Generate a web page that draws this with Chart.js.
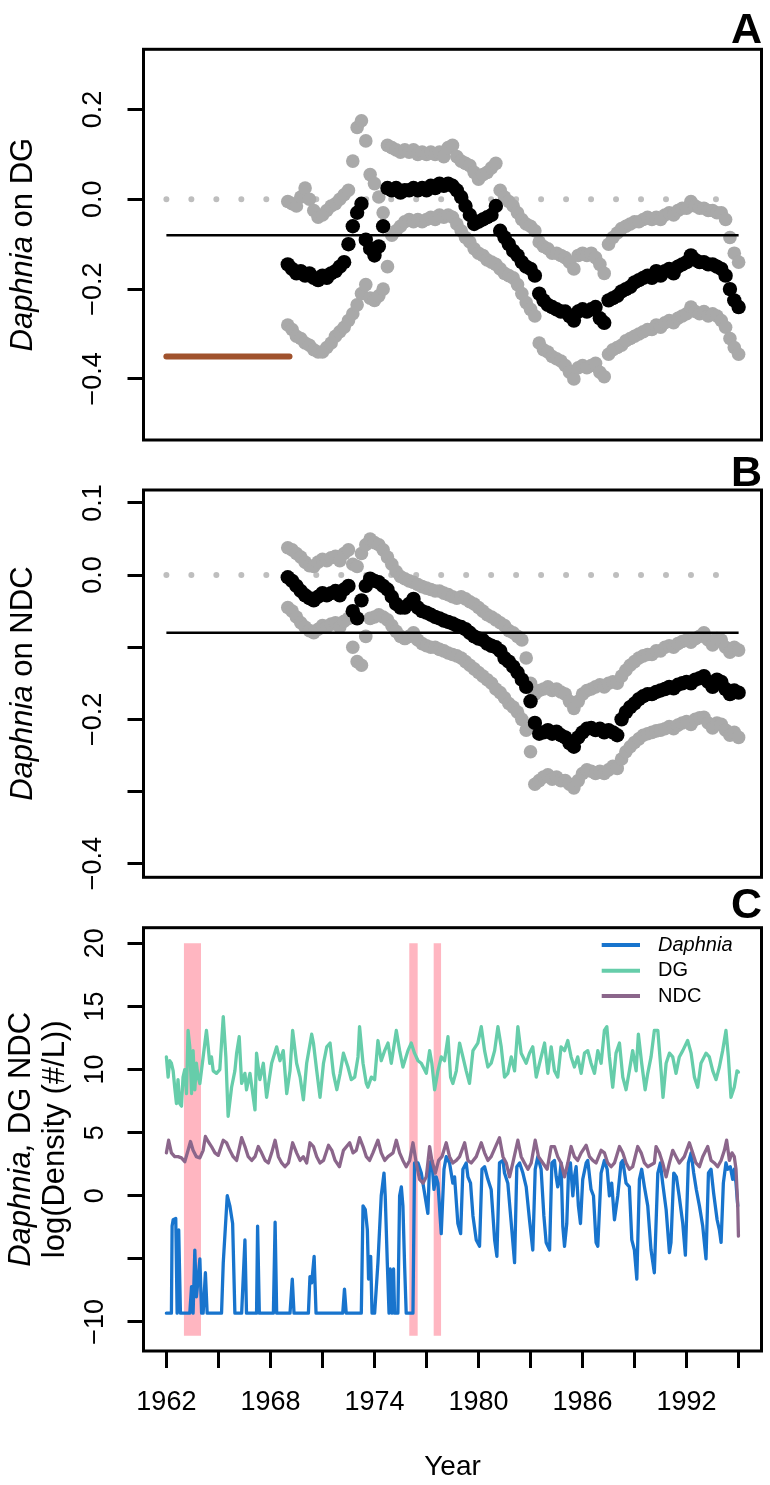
<!DOCTYPE html>
<html><head><meta charset="utf-8">
<script src="https://cdn.jsdelivr.net/npm/chart.js@4/dist/chart.umd.min.js"></script>
<style>
html,body{margin:0;padding:0;background:#fff;}
#wrap{position:relative;width:770px;height:1485px;overflow:hidden;}
canvas{position:absolute;left:0;top:0;pointer-events:none;}
</style></head><body><div id="wrap">
<canvas id="cA" width="770" height="1485"></canvas>
<canvas id="cB" width="770" height="1485"></canvas>
<canvas id="cC" width="770" height="1485"></canvas>
</div>
<script>
// ---------- DATA ----------
const xTickYears = [1962,1965,1968,1971,1974,1977,1980,1983,1986,1989,1992,1995];
const xLabelYears = [1962,1968,1974,1980,1986,1992];
const yTicksA = [0.2,0,-0.2,-0.4];
const yLabelsA = [0.2,0,-0.2,-0.4];
const yTicksB = [0.1,0,-0.1,-0.2,-0.3,-0.4];
const yLabelsB = [0.1,0,-0.2,-0.4];
const yTicksC = [20,15,10,5,0,-5,-10];
const yLabelsC = [20,15,10,5,0,-10];

const abYears = [1969,1969.25,1969.5,1969.75,1970,1970.25,1970.5,1970.75,1971,1971.25,1971.5,1971.75,1972,1972.25,1972.5,1972.75,1973,1973.25,1973.5,1973.75,1974,1974.25,1974.5,1974.75,1975,1975.25,1975.5,1975.75,1976,1976.25,1976.5,1976.75,1977,1977.25,1977.5,1977.75,1978,1978.25,1978.5,1978.75,1979,1979.25,1979.5,1979.75,1980,1980.25,1980.5,1980.75,1981,1981.25,1981.5,1981.75,1982,1982.25,1982.5,1982.75,1983,1983.25,1983.5,1983.75,1984,1984.25,1984.5,1984.75,1985,1985.25,1985.5,1985.75,1986,1986.25,1986.5,1986.75,1987,1987.25,1987.5,1987.75,1988,1988.25,1988.5,1988.75,1989,1989.25,1989.5,1989.75,1990,1990.25,1990.5,1990.75,1991,1991.25,1991.5,1991.75,1992,1992.25,1992.5,1992.75,1993,1993.25,1993.5,1993.75,1994,1994.25,1994.5,1994.75,1995];

const dgEffect = [-0.145,-0.155,-0.165,-0.16,-0.17,-0.165,-0.175,-0.18,-0.17,-0.175,-0.165,-0.16,-0.15,-0.14,-0.1,-0.06,-0.03,-0.01,-0.09,-0.11,-0.125,-0.105,-0.06,0.025,0.02,0.025,0.015,0.02,0.02,0.025,0.02,0.025,0.02,0.03,0.025,0.035,0.03,0.035,0.03,0.02,0.005,-0.015,-0.035,-0.055,-0.05,-0.045,-0.04,-0.035,-0.015,-0.07,-0.085,-0.1,-0.115,-0.125,-0.14,-0.15,-0.155,-0.17,-0.21,-0.225,-0.235,-0.24,-0.245,-0.25,-0.25,-0.26,-0.27,-0.25,-0.245,-0.25,-0.245,-0.24,-0.265,-0.275,-0.225,-0.22,-0.215,-0.205,-0.2,-0.195,-0.185,-0.18,-0.175,-0.17,-0.175,-0.16,-0.17,-0.16,-0.155,-0.165,-0.15,-0.145,-0.14,-0.125,-0.135,-0.14,-0.14,-0.145,-0.145,-0.15,-0.155,-0.17,-0.2,-0.225,-0.24];
const dgUpper = [-0.005,-0.01,-0.015,0.005,0.025,0,-0.025,-0.04,-0.035,-0.025,-0.015,-0.01,0,0.01,0.02,0.085,0.16,0.175,0.13,0.055,0.035,0.005,-0.03,0.12,0.115,0.11,0.105,0.11,0.105,0.11,0.1,0.105,0.1,0.105,0.1,0.105,0.095,0.115,0.12,0.095,0.085,0.08,0.075,0.06,0.045,0.055,0.06,0.07,0.08,0.02,0.005,-0.005,-0.015,-0.03,-0.045,-0.055,-0.06,-0.07,-0.095,-0.105,-0.11,-0.12,-0.12,-0.125,-0.13,-0.14,-0.155,-0.125,-0.12,-0.125,-0.12,-0.13,-0.145,-0.165,-0.1,-0.085,-0.075,-0.065,-0.06,-0.055,-0.05,-0.05,-0.045,-0.04,-0.045,-0.04,-0.045,-0.035,-0.03,-0.035,-0.025,-0.02,-0.02,-0.005,-0.015,-0.02,-0.02,-0.025,-0.025,-0.03,-0.03,-0.045,-0.085,-0.12,-0.14];
const dgLower = [-0.28,-0.29,-0.305,-0.31,-0.32,-0.325,-0.335,-0.34,-0.34,-0.33,-0.32,-0.305,-0.295,-0.285,-0.27,-0.255,-0.235,-0.21,-0.19,-0.22,-0.225,-0.215,-0.2,-0.15,-0.08,-0.07,-0.06,-0.05,-0.045,-0.05,-0.045,-0.05,-0.045,-0.04,-0.045,-0.035,-0.04,-0.035,-0.04,-0.055,-0.07,-0.085,-0.095,-0.11,-0.12,-0.125,-0.135,-0.14,-0.145,-0.155,-0.165,-0.17,-0.175,-0.19,-0.21,-0.23,-0.245,-0.26,-0.32,-0.335,-0.34,-0.35,-0.355,-0.36,-0.37,-0.385,-0.4,-0.375,-0.37,-0.375,-0.37,-0.365,-0.385,-0.395,-0.345,-0.335,-0.33,-0.325,-0.315,-0.31,-0.305,-0.3,-0.295,-0.29,-0.29,-0.28,-0.285,-0.275,-0.27,-0.275,-0.265,-0.26,-0.255,-0.24,-0.25,-0.255,-0.25,-0.26,-0.255,-0.26,-0.27,-0.285,-0.31,-0.33,-0.345];

const ndcEffect = [-0.003,-0.008,-0.015,-0.022,-0.028,-0.032,-0.035,-0.03,-0.025,-0.028,-0.025,-0.022,-0.028,-0.02,-0.015,-0.05,-0.06,-0.035,-0.015,-0.005,-0.008,-0.01,-0.015,-0.02,-0.03,-0.04,-0.045,-0.045,-0.04,-0.033,-0.045,-0.05,-0.052,-0.055,-0.058,-0.06,-0.063,-0.065,-0.067,-0.07,-0.072,-0.075,-0.08,-0.085,-0.088,-0.09,-0.095,-0.098,-0.1,-0.105,-0.115,-0.12,-0.127,-0.135,-0.145,-0.155,-0.175,-0.205,-0.22,-0.218,-0.215,-0.22,-0.217,-0.222,-0.225,-0.233,-0.238,-0.225,-0.218,-0.213,-0.212,-0.215,-0.213,-0.218,-0.215,-0.218,-0.222,-0.2,-0.19,-0.183,-0.178,-0.172,-0.168,-0.165,-0.165,-0.162,-0.16,-0.158,-0.155,-0.157,-0.152,-0.15,-0.148,-0.15,-0.145,-0.143,-0.14,-0.148,-0.155,-0.145,-0.148,-0.158,-0.165,-0.16,-0.163];
const ndcUpper = [0.038,0.035,0.03,0.025,0.018,0.013,0.012,0.018,0.022,0.02,0.024,0.026,0.02,0.03,0.035,0.015,0.012,0.03,0.042,0.05,0.045,0.042,0.035,0.025,0.015,0.005,-0.002,-0.005,-0.008,-0.01,-0.013,-0.016,-0.018,-0.02,-0.022,-0.022,-0.025,-0.027,-0.03,-0.032,-0.03,-0.033,-0.037,-0.04,-0.045,-0.05,-0.055,-0.058,-0.062,-0.066,-0.07,-0.077,-0.08,-0.085,-0.09,-0.115,-0.15,-0.165,-0.16,-0.158,-0.155,-0.16,-0.158,-0.162,-0.165,-0.175,-0.185,-0.175,-0.165,-0.16,-0.158,-0.155,-0.152,-0.155,-0.15,-0.148,-0.15,-0.14,-0.132,-0.125,-0.12,-0.115,-0.112,-0.11,-0.11,-0.105,-0.105,-0.1,-0.098,-0.1,-0.095,-0.092,-0.09,-0.093,-0.088,-0.085,-0.08,-0.09,-0.097,-0.088,-0.09,-0.1,-0.107,-0.1,-0.104];
const ndcLower = [-0.045,-0.05,-0.058,-0.066,-0.072,-0.077,-0.08,-0.075,-0.07,-0.072,-0.068,-0.066,-0.072,-0.064,-0.06,-0.1,-0.12,-0.125,-0.085,-0.06,-0.058,-0.055,-0.058,-0.062,-0.07,-0.078,-0.085,-0.088,-0.085,-0.08,-0.09,-0.095,-0.098,-0.1,-0.1,-0.103,-0.105,-0.108,-0.11,-0.112,-0.115,-0.12,-0.125,-0.13,-0.135,-0.14,-0.145,-0.15,-0.158,-0.163,-0.17,-0.178,-0.183,-0.19,-0.2,-0.215,-0.245,-0.29,-0.285,-0.28,-0.277,-0.283,-0.28,-0.285,-0.285,-0.29,-0.295,-0.285,-0.275,-0.27,-0.272,-0.275,-0.272,-0.275,-0.27,-0.265,-0.268,-0.255,-0.245,-0.238,-0.232,-0.227,-0.222,-0.22,-0.218,-0.216,-0.215,-0.213,-0.21,-0.213,-0.208,-0.205,-0.203,-0.207,-0.2,-0.198,-0.197,-0.205,-0.212,-0.205,-0.207,-0.215,-0.222,-0.218,-0.225];

const refLineYears = [1962,1995];
const meanEffect = -0.08;
const zeroLine = 0;
const thresholdYears = [1962,1969.1];
const thresholdA = -0.35;

const pinkSpans = [[1963.0,1964.0],[1976.0,1976.5],[1977.4,1977.85]];
const pinkTop = 20, pinkBottom = -11.1;

const dgYears = [1962.00,1962.10,1962.19,1962.29,1962.39,1962.48,1962.58,1962.67,1962.77,1962.87,1962.96,1963.06,1963.16,1963.25,1963.35,1963.45,1963.54,1963.64,1963.73,1963.83,1963.93,1964.12,1964.31,1964.41,1964.50,1964.60,1964.70,1964.89,1965.08,1965.28,1965.43,1965.56,1965.76,1965.95,1966.05,1966.20,1966.34,1966.53,1966.62,1966.82,1967.11,1967.20,1967.39,1967.59,1967.78,1968.07,1968.36,1968.55,1968.74,1968.94,1969.13,1969.28,1969.51,1969.71,1969.90,1970.09,1970.38,1970.48,1970.67,1970.86,1971.06,1971.25,1971.44,1971.63,1971.83,1972.02,1972.21,1972.47,1972.66,1972.86,1973.05,1973.14,1973.34,1973.53,1973.62,1973.82,1974.01,1974.20,1974.39,1974.59,1974.78,1974.97,1975.26,1975.45,1975.64,1975.93,1976.12,1976.31,1976.51,1976.70,1976.99,1977.18,1977.31,1977.47,1977.66,1977.85,1978.04,1978.24,1978.39,1978.52,1978.72,1978.91,1979.10,1979.29,1979.48,1979.68,1979.96,1980.16,1980.35,1980.54,1980.73,1980.93,1981.12,1981.31,1981.50,1981.69,1981.89,1982.08,1982.27,1982.46,1982.75,1982.94,1983.13,1983.33,1983.52,1983.81,1984.00,1984.19,1984.38,1984.57,1984.76,1984.96,1985.15,1985.34,1985.53,1985.72,1985.92,1986.11,1986.30,1986.49,1986.69,1986.88,1987.07,1987.26,1987.40,1987.55,1987.74,1987.93,1988.13,1988.32,1988.51,1988.70,1988.89,1989.09,1989.22,1989.41,1989.61,1989.76,1989.95,1990.14,1990.34,1990.53,1990.64,1990.82,1991.01,1991.20,1991.39,1991.58,1991.78,1992.06,1992.26,1992.45,1992.64,1992.83,1993.12,1993.31,1993.51,1993.70,1993.89,1994.08,1994.27,1994.41,1994.56,1994.75,1994.91,1994.99];
const dgDensity = [11.0,9.4,10.7,10.5,9.9,8.6,7.3,9.2,7.3,7.1,9.4,10.0,8.1,13.1,11.8,8.1,11.5,8.4,10.5,9.4,8.9,11.0,13.1,11.8,10.5,11.0,9.9,9.7,10.0,14.2,11.0,6.3,8.6,9.9,11.3,12.6,8.9,9.7,8.4,9.7,6.8,11.3,9.2,10.5,7.8,10.5,11.8,10.7,11.5,8.1,9.9,13.1,10.5,9.4,7.6,10.5,12.8,12.1,9.9,7.8,10.5,11.8,12.1,9.7,8.4,9.7,11.3,10.2,9.2,9.4,11.0,13.4,10.5,8.9,8.6,9.4,9.2,12.3,10.7,11.5,12.1,10.5,13.1,11.5,10.2,11.5,12.1,11.3,10.7,10.5,9.7,11.5,10.5,8.4,9.9,11.0,10.7,12.6,9.4,8.9,9.9,12.1,11.0,9.9,8.9,11.5,12.1,13.4,11.5,10.2,10.5,11.5,13.4,11.8,9.4,9.7,11.0,9.9,13.4,11.3,10.5,11.3,11.8,9.4,10.5,12.1,9.7,11.8,9.9,9.4,11.8,11.5,12.3,11.0,10.2,11.0,9.7,11.3,11.5,10.5,9.7,11.5,10.5,13.1,13.4,11.0,8.6,11.3,12.1,9.4,8.4,9.9,11.5,9.9,12.8,10.5,8.4,9.7,11.0,13.1,13.1,9.9,7.8,10.5,11.3,11.0,9.7,11.0,11.5,12.3,11.3,9.4,8.6,10.5,11.3,11.0,9.9,9.2,10.2,11.5,13.1,11.0,7.8,8.6,9.9,9.8];

const ndcYears = [1962.00,1962.13,1962.29,1962.48,1962.67,1962.87,1963.06,1963.25,1963.39,1963.54,1963.73,1963.93,1964.12,1964.25,1964.41,1964.60,1964.80,1964.99,1965.28,1965.47,1965.66,1965.85,1966.05,1966.34,1966.53,1966.72,1966.92,1967.11,1967.30,1967.49,1967.69,1967.88,1968.07,1968.27,1968.46,1968.65,1968.84,1969.04,1969.28,1969.51,1969.71,1969.90,1970.09,1970.28,1970.48,1970.67,1970.86,1971.06,1971.35,1971.54,1971.73,1971.98,1972.21,1972.57,1972.76,1972.95,1973.14,1973.34,1973.53,1973.72,1973.91,1974.20,1974.39,1974.59,1974.78,1975.07,1975.26,1975.45,1975.64,1975.83,1976.03,1976.22,1976.41,1976.60,1976.80,1976.99,1977.18,1977.31,1977.51,1977.70,1977.89,1978.14,1978.33,1978.52,1978.72,1978.91,1979.20,1979.39,1979.58,1979.87,1980.16,1980.35,1980.54,1980.73,1981.21,1981.41,1981.60,1981.79,1981.98,1982.27,1982.46,1982.65,1982.85,1983.04,1983.27,1983.46,1983.71,1983.96,1984.19,1984.38,1984.57,1984.76,1984.96,1985.15,1985.34,1985.53,1985.72,1985.92,1986.21,1986.40,1986.59,1986.78,1987.07,1987.26,1987.45,1987.65,1987.84,1988.13,1988.32,1988.51,1988.70,1988.89,1989.18,1989.38,1989.57,1989.76,1990.14,1990.24,1990.43,1990.62,1990.82,1991.01,1991.20,1991.39,1991.58,1991.87,1992.16,1992.35,1992.54,1992.74,1992.93,1993.22,1993.41,1993.60,1993.79,1993.99,1994.18,1994.31,1994.47,1994.62,1994.75,1994.85,1994.95,1994.99];
const ndcDensity = [3.4,4.4,3.4,3.1,3.1,3.0,2.7,3.6,4.3,3.6,3.1,3.0,3.6,4.7,4.3,3.9,3.4,3.2,4.4,4.2,3.6,3.1,2.8,4.6,3.9,3.1,2.8,3.1,3.9,3.4,2.8,2.6,3.4,4.4,3.1,2.6,2.3,2.6,4.2,3.4,2.8,3.1,2.6,4.2,3.9,3.1,2.6,2.8,4.0,3.6,2.8,2.3,3.6,4.2,3.4,3.6,4.6,3.9,3.1,2.8,3.4,4.4,3.4,2.8,3.1,3.4,4.4,3.4,2.8,2.3,2.8,4.2,2.6,1.3,1.0,1.5,3.9,2.8,1.8,2.8,3.1,4.2,3.1,2.6,2.8,3.1,4.2,2.8,2.6,3.1,4.2,3.4,2.8,3.1,4.6,3.1,2.6,1.5,2.6,4.4,3.1,2.6,2.1,2.6,4.4,3.1,2.6,2.1,3.9,3.9,3.1,2.6,1.5,2.6,3.9,3.1,2.8,3.4,4.0,3.1,2.8,2.6,3.6,3.4,2.6,2.3,2.6,3.9,3.4,2.6,2.1,2.3,3.9,3.4,2.6,2.3,2.6,3.9,3.4,2.6,1.5,2.6,3.6,3.1,2.6,3.1,4.2,3.4,2.6,2.3,3.1,3.9,2.8,2.6,2.3,2.8,3.6,4.4,2.8,3.4,3.1,2.1,-0.8,-3.2];

const daphYears = [1962.00,1962.29,1962.33,1962.39,1962.54,1962.62,1962.71,1962.81,1963.35,1963.45,1963.54,1963.64,1963.73,1963.83,1963.93,1964.03,1964.12,1964.25,1964.35,1965.18,1965.28,1965.51,1965.66,1965.82,1965.95,1966.34,1966.53,1966.62,1967.20,1967.26,1967.36,1968.17,1968.27,1968.36,1969.13,1969.26,1969.36,1970.19,1970.28,1970.38,1970.52,1970.63,1972.17,1972.27,1972.37,1973.24,1973.34,1973.47,1973.59,1973.66,1973.78,1973.86,1974.01,1974.20,1974.39,1974.55,1974.62,1974.74,1974.84,1974.91,1975.01,1975.10,1975.16,1975.35,1975.45,1975.55,1975.64,1975.74,1975.83,1976.22,1976.31,1976.51,1976.70,1976.89,1977.08,1977.18,1977.31,1977.43,1977.56,1977.66,1977.85,1978.01,1978.14,1978.33,1978.52,1978.62,1978.81,1978.97,1979.10,1979.29,1979.39,1979.54,1979.68,1979.87,1980.06,1980.20,1980.35,1980.54,1980.73,1980.93,1981.06,1981.21,1981.41,1981.50,1981.69,1981.89,1982.08,1982.21,1982.37,1982.56,1982.75,1982.94,1983.13,1983.27,1983.42,1983.61,1983.77,1983.90,1984.10,1984.23,1984.38,1984.48,1984.57,1984.67,1984.76,1984.86,1984.96,1985.09,1985.19,1985.30,1985.44,1985.53,1985.63,1985.76,1985.88,1986.01,1986.21,1986.30,1986.49,1986.63,1986.78,1986.88,1987.07,1987.26,1987.42,1987.55,1987.68,1987.84,1988.03,1988.22,1988.32,1988.51,1988.70,1988.84,1988.99,1989.13,1989.28,1989.41,1989.57,1989.76,1989.95,1990.14,1990.34,1990.49,1990.62,1990.82,1991.01,1991.10,1991.26,1991.41,1991.57,1991.78,1991.93,1992.10,1992.26,1992.41,1992.56,1992.74,1992.93,1993.12,1993.26,1993.41,1993.56,1993.76,1993.89,1993.99,1994.12,1994.27,1994.37,1994.52,1994.66,1994.75,1994.85,1994.95];
const daphDensity = [-9.3,-9.3,-2.4,-1.9,-1.8,-9.3,-2.7,-9.3,-9.3,-7.2,-9.3,-4.3,-8.0,-6.6,-5.0,-9.3,-9.3,-6.1,-9.3,-9.3,-5.3,0.0,-0.8,-2.2,-9.3,-9.3,-3.5,-9.3,-9.3,-2.4,-9.3,-9.3,-2.1,-9.3,-9.3,-6.6,-9.3,-9.3,-6.4,-6.9,-4.8,-9.3,-9.3,-7.4,-9.3,-9.3,-0.8,-1.1,-2.7,-6.6,-4.8,-9.3,-9.3,-5.3,0.0,1.8,0.0,-5.3,-9.3,-5.8,-9.3,-5.8,-9.3,-9.3,0.0,0.7,-0.8,-5.6,-9.3,-9.3,2.6,2.6,1.8,0.2,-1.4,2.6,2.8,0.5,1.5,1.0,-3.0,2.1,3.1,2.6,1.0,1.5,-2.2,-3.0,2.1,2.6,1.5,1.0,-1.6,-3.5,-4.0,2.1,2.3,1.3,0.5,-3.5,-4.8,2.6,2.8,1.8,1.0,-2.2,-5.3,2.3,2.6,1.8,0.7,-1.9,-4.3,2.1,3.1,2.1,-1.6,-3.7,-4.3,2.6,2.8,1.5,0.7,1.3,2.6,-2.4,-4.0,-2.2,1.8,2.6,0.0,1.5,2.3,-0.8,-2.2,1.3,2.6,2.8,0.5,0.0,-3.7,-4.0,1.8,2.8,2.1,0.0,1.0,-1.9,0.0,2.6,2.8,1.0,0.7,-3.5,-4.3,-6.6,1.3,2.1,0.7,-0.8,-4.3,-6.1,1.8,2.6,1.0,-1.1,-4.5,-3.7,1.8,1.5,0.0,-2.2,-4.7,2.6,3.4,1.8,0.5,-0.8,-2.4,-5.0,1.8,2.1,0.2,-1.9,-2.7,-3.7,1.0,2.6,2.1,2.3,1.3,2.1,1.0,-0.8];

// ---------- STYLE / LAYOUT ----------
const FONT = "'Liberation Sans', Arial, Helvetica, sans-serif";
const XMIN = 1960.68, XMAX = 1996.32;
const PLOT_LEFT = 143.5, PLOT_RIGHT = 761.5, H = 1485, W = 770;
const GRAY = '#A9A9A9', DOT = '#BEBEBE', BROWN = '#A0522D';
const BLUE = '#1874CD', GREEN = '#66CDAA', PURPLE = '#8B668B', PINK = '#FFB6C1';
const TICK_FONT = 27;

function fmt(v, dec) {
  const s = Math.abs(v).toFixed(dec);
  return (v < 0 ? '\u2212' : '') + s;
}
function pts(xs, ys) { return xs.map((x, i) => ({x, y: ys[i]})); }
function flat(xs, y) { return xs.map(x => ({x, y})); }

function yScale(min, max, ticks, labelled, dec, pad) {
  return {
    type: 'linear', position: 'left', min, max,
    afterFit: s => { s.width = PLOT_LEFT; },
    afterBuildTicks: s => { s.ticks = ticks.map(v => ({value: v})); },
    grid: {display: true, drawOnChartArea: false, drawTicks: true, tickLength: 16, tickWidth: 3, tickColor: '#000', color: '#000'},
    border: {display: false},
    ticks: {autoSkip: false, minRotation: 90, maxRotation: 90, crossAlign: 'center', padding: pad,
      color: '#000', font: {family: FONT, size: TICK_FONT},
      callback: v => labelled.includes(v) ? fmt(v, dec) : ''}
  };
}
function xScale(show) {
  if (!show) return {type: 'linear', position: 'bottom', min: XMIN, max: XMAX, display: false};
  return {
    type: 'linear', position: 'bottom', min: XMIN, max: XMAX, display: true,
    afterFit: s => { s.height = 80; },
    afterBuildTicks: s => { s.ticks = xTickYears.map(v => ({value: v})); },
    grid: {display: true, drawOnChartArea: false, drawTicks: true, tickLength: 17, tickWidth: 3, tickColor: '#000', color: '#000'},
    border: {display: false},
    ticks: {autoSkip: false, minRotation: 0, maxRotation: 0, padding: 18, color: '#000',
      font: {family: FONT, size: 27},
      callback: v => xLabelYears.includes(v) ? String(v) : ''}
  };
}

function drawRich(ctx, parts, cx, cy, size) {
  let total = 0;
  const widths = parts.map(p => {
    ctx.font = (p.i ? 'italic ' : '') + size + 'px ' + FONT;
    const w = ctx.measureText(p.t).width; total += w; return w;
  });
  ctx.save();
  ctx.translate(cx, cy);
  ctx.rotate(-Math.PI / 2);
  ctx.textBaseline = 'middle'; ctx.textAlign = 'left'; ctx.fillStyle = '#000';
  let x = -total / 2;
  parts.forEach((p, k) => {
    ctx.font = (p.i ? 'italic ' : '') + size + 'px ' + FONT;
    ctx.fillText(p.t, x, 0); x += widths[k];
  });
  ctx.restore();
}

const decor = {
  id: 'decor',
  afterDatasetsDraw(chart, args, o) {
    const ctx = chart.ctx, a = chart.chartArea;
    ctx.save();
    ctx.strokeStyle = '#000'; ctx.lineWidth = 3;
    ctx.strokeRect(a.left, a.top, a.right - a.left, a.bottom - a.top);
    ctx.fillStyle = '#000';
    ctx.font = 'bold 43px ' + FONT;
    ctx.textAlign = 'right'; ctx.textBaseline = 'alphabetic';
    ctx.fillText(o.letter, o.letterX, o.letterY);
    const cy = (a.top + a.bottom) / 2;
    o.titles.forEach(t => drawRich(ctx, t.parts, t.x, cy, 31));
    if (o.legend) {
      o.legend.forEach(r => {
        ctx.strokeStyle = r.color; ctx.lineWidth = 4; ctx.lineCap = 'butt';
        ctx.beginPath(); ctx.moveTo(r.x0, r.y); ctx.lineTo(r.x1, r.y); ctx.stroke();
        ctx.fillStyle = '#000';
        ctx.font = (r.italic ? 'italic ' : '') + '20px ' + FONT;
        ctx.textAlign = 'left'; ctx.textBaseline = 'middle';
        ctx.fillText(r.label, r.tx, r.y);
      });
    }
    if (o.xTitle) {
      ctx.fillStyle = '#000'; ctx.font = '28px ' + FONT;
      ctx.textAlign = 'center'; ctx.textBaseline = 'middle';
      ctx.fillText(o.xTitle.text, (a.left + a.right) / 2, o.xTitle.y);
    }
    ctx.restore();
  }
};

function effectPanel(id, eff, up, lo, yMin, yMax, yT, yL, padTop, padBottom, letter, letterY, titleParts, withThreshold) {
  const ds = [
    {type: 'scatter', data: pts(abYears, eff), pointRadius: 7.2, pointBorderWidth: 0, pointBackgroundColor: '#000', order: 1},
    {type: 'line', data: flat(refLineYears, meanEffect), borderColor: '#000', borderWidth: 2.5, pointRadius: 0, order: 2},
    {type: 'scatter', data: pts(abYears, up), pointRadius: 6.8, pointBorderWidth: 0, pointBackgroundColor: GRAY, order: 3},
    {type: 'scatter', data: pts(abYears, lo), pointRadius: 6.8, pointBorderWidth: 0, pointBackgroundColor: GRAY, order: 4},
    {type: 'line', data: flat(refLineYears, zeroLine), borderColor: DOT, borderWidth: 6, borderDash: [0.01, 24.97], borderCapStyle: 'round', pointRadius: 0, order: 6}
  ];
  if (withThreshold) ds.push({type: 'line', data: flat(thresholdYears, thresholdA), borderColor: BROWN, borderWidth: 6, borderCapStyle: 'round', pointRadius: 0, order: 5});
  return new Chart(document.getElementById(id), {
    data: {datasets: ds},
    options: {
      responsive: false, animation: false, events: [], devicePixelRatio: 1,
      layout: {autoPadding: false, padding: {left: 0, top: padTop, right: W - PLOT_RIGHT, bottom: padBottom}},
      scales: {x: xScale(false), y: yScale(yMin, yMax, yT, yL, 1, 7)},
      plugins: {legend: {display: false}, tooltip: {enabled: false},
        decor: {letter, letterX: 762, letterY, titles: [{x: 23, parts: titleParts}]}}
    },
    plugins: [decor]
  });
}

effectPanel('cA', dgEffect, dgUpper, dgLower, -0.536, 0.334, yTicksA, yLabelsA, 49.3, H - 440, 'A', 43,
  [{t: 'Daphnia', i: true}, {t: ' on DG', i: false}], true);
effectPanel('cB', ndcEffect, ndcUpper, ndcLower, -0.419, 0.118, yTicksB, yLabelsB, 490, H - 877.3, 'B', 486,
  [{t: 'Daphnia', i: true}, {t: ' on NDC', i: false}], false);

const cDatasets = pinkSpans.map(s => ({
  type: 'line', data: flat(s, pinkTop), borderColor: 'rgba(0,0,0,0)', borderWidth: 0, pointRadius: 0,
  backgroundColor: PINK, fill: {value: pinkBottom}, order: 10
}));
const lineStyle = {type: 'line', borderWidth: 3.3, pointRadius: 0, tension: 0, borderJoinStyle: 'round', borderCapStyle: 'round', fill: false};
cDatasets.push(Object.assign({}, lineStyle, {label: 'Daphnia', data: pts(daphYears, daphDensity), borderColor: BLUE, order: 3}));
cDatasets.push(Object.assign({}, lineStyle, {label: 'DG', data: pts(dgYears, dgDensity), borderColor: GREEN, order: 2}));
cDatasets.push(Object.assign({}, lineStyle, {label: 'NDC', data: pts(ndcYears, ndcDensity), borderColor: PURPLE, order: 1}));

new Chart(document.getElementById('cC'), {
  data: {datasets: cDatasets},
  options: {
    responsive: false, animation: false, events: [], devicePixelRatio: 1,
    layout: {autoPadding: false, padding: {left: 0, top: 927.7, right: W - PLOT_RIGHT, bottom: H - 1351 - 80}},
    scales: {x: xScale(true), y: yScale(-12.3, 21.24, yTicksC, yLabelsC, 0, 9)},
    plugins: {legend: {display: false}, tooltip: {enabled: false},
      decor: {letter: 'C', letterX: 762, letterY: 918,
        titles: [{x: 21, parts: [{t: 'Daphnia,', i: true}, {t: ' DG NDC', i: false}]},
                 {x: 55, parts: [{t: 'log(Density (#/L))', i: false}]}],
        legend: [
          {label: 'Daphnia', italic: true, color: BLUE, y: 945, x0: 601.7, x1: 640, tx: 658},
          {label: 'DG', italic: false, color: GREEN, y: 970.7, x0: 601.7, x1: 640, tx: 658},
          {label: 'NDC', italic: false, color: PURPLE, y: 996, x0: 601.7, x1: 640, tx: 658}
        ],
        xTitle: {text: 'Year', y: 1467}}
    }
  },
  plugins: [decor]
});
</script>
</body></html>
